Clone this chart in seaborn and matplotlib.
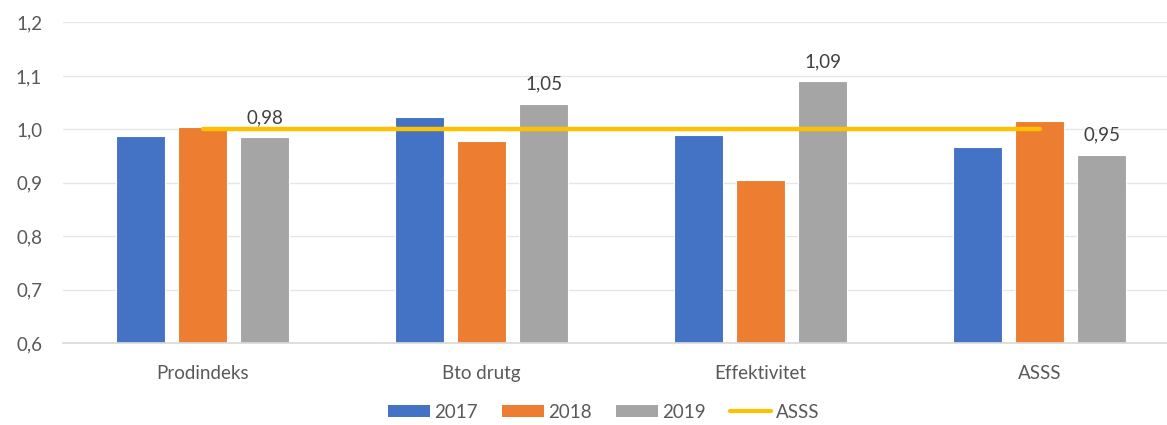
import matplotlib
matplotlib.use("Agg")
import matplotlib.pyplot as plt
import seaborn as sns
import pandas as pd
from matplotlib.patches import Patch
from matplotlib.lines import Line2D

# Data
categories = ["Prodindeks", "Bto drutg", "Effektivitet", "ASSS"]
years = ["2017", "2018", "2019"]
values_2017 = [0.987, 1.024, 0.990, 0.966]
values_2018 = [1.004, 0.979, 0.906, 1.016]
values_2019 = [0.985, 1.048, 1.090, 0.952]
asss_line = [1.0, 1.0, 1.0, 1.0]

colors = ["#4472C4", "#ED7D31", "#A5A5A5"]
line_color = "#FFC000"
text_color = "#595959"

sns.set_theme(style="white")
plt.rcParams["font.family"] = ["Lato", "DejaVu Sans"]

# long-form table for seaborn
rows = []
for year, vals in zip(years, [values_2017, values_2018, values_2019]):
    for cat, v in zip(categories, vals):
        rows.append({"kategori": cat, "år": year, "verdi": v})
df = pd.DataFrame(rows)

fig = plt.figure(figsize=(11.67, 4.25), dpi=100)
ax = fig.add_axes([63 / 1167, 1 - 343 / 425, (1179 - 63) / 1167, (343 - 22.5) / 425])

sns.barplot(data=df, x="kategori", y="verdi", hue="år", order=categories,
            hue_order=years, palette=colors, width=0.667, gap=0.21,
            edgecolor="white", linewidth=0.8, saturation=1, legend=False, ax=ax)

# ASSS reference line
ax.plot(categories, asss_line, color=line_color, linewidth=3.2, solid_capstyle="round", zorder=3)

# data labels for 2019 only
lbls = [f"{v:.2f}".replace(".", ",") for v in values_2019]
ax.bar_label(ax.containers[2], labels=lbls, padding=8, fontsize=13.5, color="#404040")

ax.set_ylim(0.6, 1.2)
ax.set_xlim(-0.5, len(categories) - 0.5)
yticks = [0.6, 0.7, 0.8, 0.9, 1.0, 1.1, 1.2]
ax.set_yticks(yticks)
ax.set_yticklabels([f"{t:.1f}".replace(".", ",") for t in yticks])
ax.tick_params(axis="y", labelsize=13.5, labelcolor=text_color, length=0, pad=15)
ax.tick_params(axis="x", labelsize=13.5, labelcolor=text_color, length=0, pad=16)
ax.set_xlabel("")
ax.set_ylabel("")
ax.grid(axis="y", color="#E6E6E6", linewidth=1)
ax.set_axisbelow(True)
for side in ["top", "right", "left"]:
    ax.spines[side].set_visible(False)
ax.spines["bottom"].set_color("#D9D9D9")

handles = [Patch(facecolor=c, edgecolor="none") for c in colors]
handles.append(Line2D([0], [0], color=line_color, linewidth=3, solid_capstyle="round"))
fig.legend(handles, years + ["ASSS"], loc="center", bbox_to_anchor=(604 / 1167, 0.03),
           ncol=4, frameon=False, fontsize=13.5, labelcolor=text_color,
           handlelength=2.2, handleheight=0.65, handletextpad=0.25, columnspacing=1.3,
           borderpad=0.1)

fig.savefig("out.png", dpi=100)
